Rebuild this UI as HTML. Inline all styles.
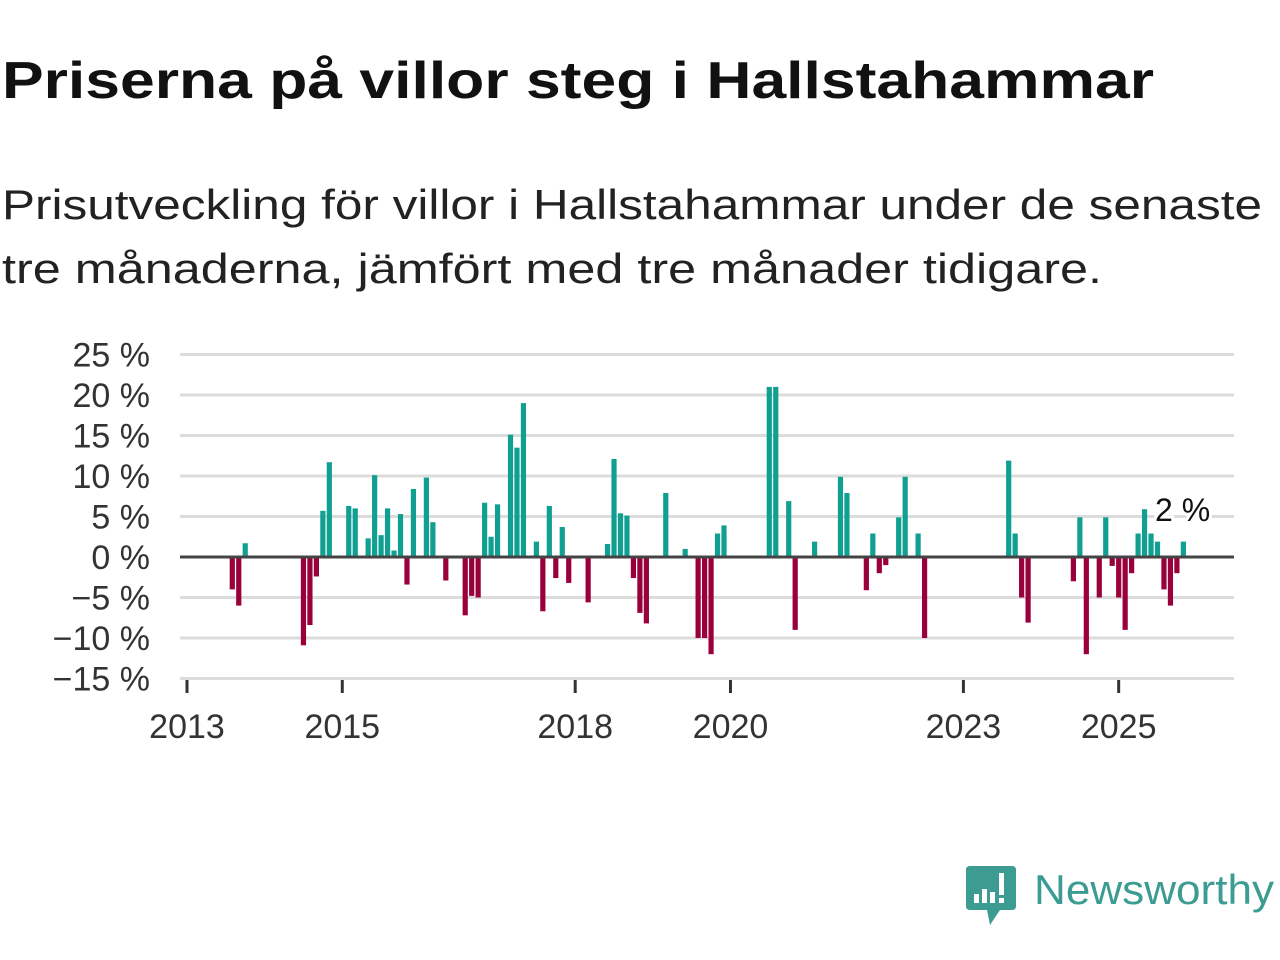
<!DOCTYPE html>
<html><head><meta charset="utf-8">
<style>
html,body{margin:0;padding:0;background:#fff;}
svg{display:block;font-family:"Liberation Sans","DejaVu Sans",sans-serif;}
</style></head>
<body>
<svg id="chart" width="1280" height="960" viewBox="0 0 1280 960">
  <text x="2" y="98" font-size="52" font-weight="bold" fill="#111" textLength="1152" lengthAdjust="spacingAndGlyphs">Priserna på villor steg i Hallstahammar</text>
  <text x="2" y="219" font-size="42" fill="#222" textLength="1260" lengthAdjust="spacingAndGlyphs">Prisutveckling för villor i Hallstahammar under de senaste</text>
  <text x="2" y="283" font-size="42" fill="#222" textLength="1100" lengthAdjust="spacingAndGlyphs">tre månaderna, jämfört med tre månader tidigare.</text>
  <g id="grid"></g>
  <g id="ylabels"></g>
  <g id="xaxis"></g>
  <g id="bars"></g>
  <line id="zero" x1="180" x2="1234" stroke="#444" stroke-width="3"></line>
  <text x="1155" y="521" font-size="32" fill="#111" stroke="#fff" stroke-width="6" paint-order="stroke">2 %</text>
  <g>
    <path d="M970 866 H1012 Q1016 866 1016 870 V906 Q1016 910 1012 910 H1000 L990 925 L987 910 H970 Q966 910 966 906 V870 Q966 866 970 866 Z" fill="#3c9c92"/>
    <rect x="974" y="894" width="5" height="9" fill="#fff"/>
    <rect x="982" y="889" width="5" height="14" fill="#fff"/>
    <rect x="990" y="892" width="5" height="11" fill="#fff"/>
    <rect x="999" y="873" width="5" height="22" fill="#fff"/>
    <rect x="999" y="898" width="5" height="5" fill="#fff"/>
    <text x="1034" y="904" font-size="42" fill="#3c9c92" textLength="240" lengthAdjust="spacingAndGlyphs">Newsworthy</text>
  </g>
</svg>
<script>
const monthIndex = [7,8,9,18,19,20,21,22,25,26,28,29,30,31,32,33,34,35,37,38,40,43,44,45,46,47,48,50,51,52,54,55,56,57,58,59,62,65,66,67,68,69,70,71,74,77,79,80,81,82,83,90,91,93,94,97,101,102,105,106,107,108,110,111,113,114,127,128,129,130,137,138,139,141,142,143,144,145,146,147,148,149,150,151,152,153,154];
const changeValues = [-4,-6,1.7,-10.9,-8.4,-2.4,5.7,11.7,6.3,6.0,2.3,10.1,2.7,6.0,0.8,5.3,-3.4,8.4,9.8,4.3,-2.9,-7.2,-4.8,-5.0,6.7,2.5,6.5,15.1,13.5,19.0,1.9,-6.7,6.3,-2.6,3.7,-3.2,-5.6,1.6,12.1,5.4,5.1,-2.6,-6.9,-8.2,7.9,1.0,-10,-10,-12,2.9,3.9,21,21,6.9,-9,1.9,9.9,7.9,-4.1,2.9,-2,-1,4.9,9.9,2.9,-10,11.9,2.9,-5,-8.1,-3,4.9,-12,-5,4.9,-1.1,-5,-9,-2,2.9,5.9,2.9,1.9,-4,-6,-2,1.9];
const yTicks = [25,20,15,10,5,0,-5,-10,-15];
const yTickLabels = ["25 %","20 %","15 %","10 %","5 %","0 %","\u221210 %".replace("10","5"),"\u221210 %","\u221215 %"];
const xTickYears = [2013,2015,2018,2020,2023,2025];

const NS="http://www.w3.org/2000/svg";
const y = v => 557 - v*8.1;
const x = m => 187 + m*6.47;
const yearX = yr => x((yr-2013)*12);
function mk(tag, attrs, parent){const e=document.createElementNS(NS,tag);for(const k in attrs)e.setAttribute(k,attrs[k]);parent.appendChild(e);return e;}
const grid=document.getElementById('grid'), yl=document.getElementById('ylabels'), xa=document.getElementById('xaxis'), bars=document.getElementById('bars');
yTicks.forEach((t,i)=>{
  const l=mk('line',{x1:180,x2:1234,y1:y(t),y2:y(t),stroke:'#dcdcdc','stroke-width':3},grid);
  
  
  const tx=mk('text',{x:150,y:y(t)+12,'text-anchor':'end','font-size':34,fill:'#333'},yl);
  tx.textContent=yTickLabels[i];
  
  
});
xTickYears.forEach(yr=>{
  const px=yearX(yr);
  const tk=mk('line',{x1:px,x2:px,y1:680,y2:693,stroke:'#333','stroke-width':3},xa);
  
  
  const tx=mk('text',{x:px,y:738,'text-anchor':'middle','font-size':34,fill:'#333'},xa);
  tx.textContent=yr;
  
  
});
monthIndex.forEach((m,i)=>{
  const v=changeValues[i];
  const top=Math.min(y(v),y(0)), h=Math.abs(y(v)-y(0));
  const r=mk('rect',{x:x(m)-2.6,y:top,width:5.2,height:h,fill:v>=0?'#10a091':'#9a003b'},bars);
  
  
});
const z=document.getElementById('zero'); z.setAttribute('y1',y(0)); z.setAttribute('y2',y(0));
</script>
</body></html>
